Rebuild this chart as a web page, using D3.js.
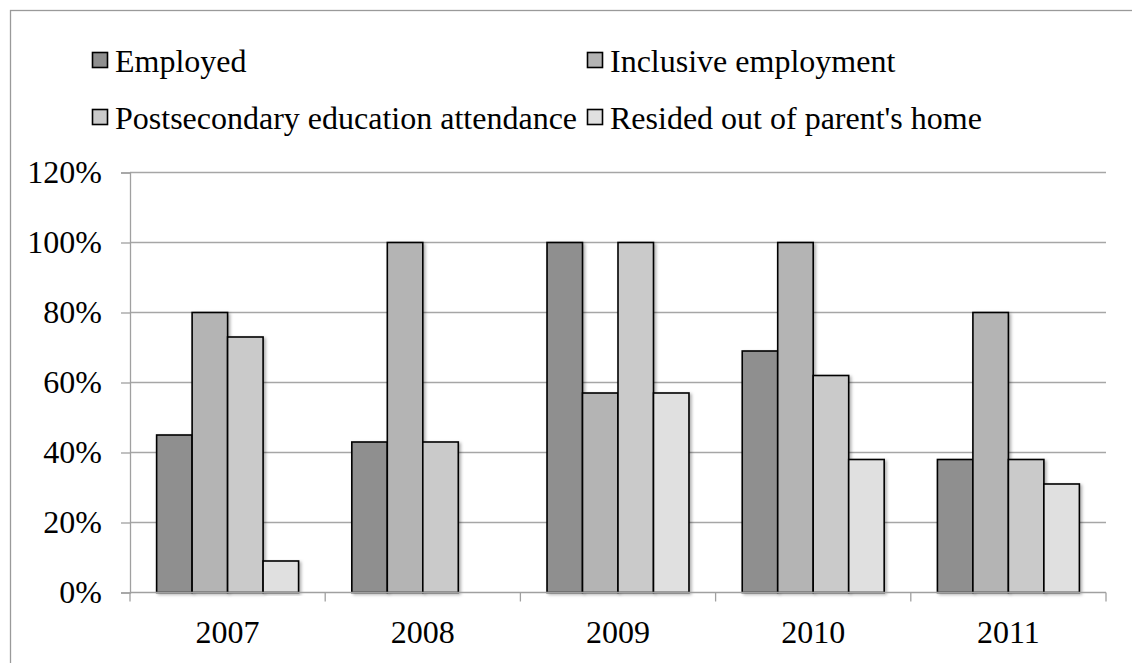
<!DOCTYPE html>
<html>
<head>
<meta charset="utf-8">
<script src="https://cdn.jsdelivr.net/npm/d3@7"></script>
<style>
  html, body { margin: 0; padding: 0; background: #fff; }
  svg { display: block; }
</style>
</head>
<body>
<svg id="chart" width="1132" height="663"></svg>
<script>
// ---- data ----
const years = ["2007", "2008", "2009", "2010", "2011"];
const seriesNames = ["Employed", "Inclusive employment", "Postsecondary education attendance", "Resided out of parent's home"];
const employed = [45, 43, 100, 69, 38];
const inclusiveEmployment = [80, 100, 57, 100, 80];
const postsecondary = [73, 43, 100, 62, 38];
const residedOut = [9, 0, 57, 38, 31];
const yTicks = [0, 20, 40, 60, 80, 100, 120];
const seriesColors = ["#8f8f8f", "#b4b4b4", "#cacaca", "#e0e0e0"];

const seriesValues = [employed, inclusiveEmployment, postsecondary, residedOut];
const FONT = "'Liberation Serif'";
const FS = "32px";

const svg = d3.select("#chart");
const plot = { left: 130, right: 1106, top: 172.5, bottom: 592.5 };

// outer frame
svg.append("rect")
  .attr("x", 10.5).attr("y", 10.5)
  .attr("width", 1300).attr("height", 800)
  .attr("fill", "none").attr("stroke", "#9a9a9a").attr("stroke-width", 1.3);

// shadow filter
const defs = svg.append("defs");
const f = defs.append("filter").attr("id", "shadow")
  .attr("x", "-20%").attr("y", "-5%").attr("width", "150%").attr("height", "115%");
f.append("feDropShadow").attr("dx", 2).attr("dy", 1.5).attr("stdDeviation", 1.5)
  .attr("flood-color", "#000").attr("flood-opacity", 0.3);

// scales
const x0 = d3.scaleBand().domain(years).range([plot.left, plot.right]).padding(0);
const x1 = d3.scaleBand().domain(d3.range(seriesNames.length))
  .range([0, x0.bandwidth()]).paddingInner(0).paddingOuter(0.75);
const y = d3.scaleLinear().domain([0, 120]).range([plot.bottom, plot.top]);

// gridlines
svg.append("g").selectAll("line").data(yTicks.filter(d => d > 0)).join("line")
  .attr("x1", plot.left).attr("x2", plot.right)
  .attr("y1", d => y(d)).attr("y2", d => y(d))
  .attr("stroke", "#a6a6a6").attr("stroke-width", 1.3);

// bars
const barData = [];
years.forEach((yr, i) => {
  seriesValues.forEach((vals, s) => {
    if (vals[i] > 0) barData.push({ year: yr, s, v: vals[i] });
  });
});
svg.append("g").selectAll("rect").data(barData).join("rect")
  .attr("x", d => x0(d.year) + x1(d.s))
  .attr("y", d => y(d.v))
  .attr("width", x1.bandwidth())
  .attr("height", d => y(0) - y(d.v))
  .attr("fill", d => seriesColors[d.s])
  .attr("stroke", "#000").attr("stroke-width", 1.6)
  .attr("filter", "url(#shadow)");

// y axis
const yAxis = svg.append("g").attr("transform", `translate(${plot.left},0)`)
  .call(d3.axisLeft(y).tickValues(yTicks).tickFormat(d => d + "%").tickSize(9).tickPadding(19));
yAxis.select(".domain").attr("stroke", "#a0a0a0").attr("stroke-width", 1.3);
yAxis.selectAll(".tick line").attr("stroke", "#a0a0a0").attr("stroke-width", 1.3);
yAxis.selectAll(".tick text")
  .style("font-family", FONT).style("font-size", FS).attr("fill", "#000");

// x axis
const xBounds = years.map(yr => x0(yr)).concat([plot.right]);
svg.append("line")
  .attr("x1", plot.left).attr("x2", plot.right)
  .attr("y1", y(0)).attr("y2", y(0))
  .attr("stroke", "#a0a0a0").attr("stroke-width", 1.3);
svg.append("g").selectAll("line").data(xBounds).join("line")
  .attr("x1", d => d).attr("x2", d => d)
  .attr("y1", y(0)).attr("y2", y(0) + 9)
  .attr("stroke", "#a0a0a0").attr("stroke-width", 1.3);
svg.append("g").selectAll("text").data(years).join("text")
  .attr("x", d => x0(d) + x0.bandwidth() / 2)
  .attr("y", 643)
  .attr("text-anchor", "middle")
  .style("font-family", FONT).style("font-size", FS)
  .attr("fill", "#000")
  .text(d => d);

// legend
const legendPos = [
  { x: 92, y: 72 }, { x: 587, y: 72 },
  { x: 92, y: 129 }, { x: 587, y: 129 }
];
const lg = svg.append("g").selectAll("g").data(seriesNames).join("g")
  .attr("transform", (d, i) => `translate(${legendPos[i].x},${legendPos[i].y})`);
lg.append("rect")
  .attr("x", 0.5).attr("y", -19.5)
  .attr("width", 15).attr("height", 15)
  .attr("fill", (d, i) => seriesColors[i])
  .attr("stroke", "#000").attr("stroke-width", 1.6);
lg.append("text")
  .attr("x", 23).attr("y", 0)
  .style("font-family", FONT).style("font-size", FS)
  .attr("fill", "#000")
  .text(d => d);
</script>
</body>
</html>
